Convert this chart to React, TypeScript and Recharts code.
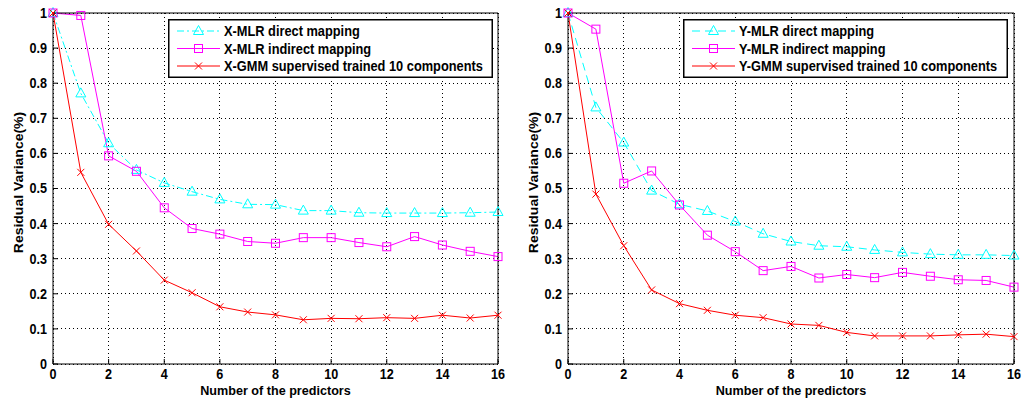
import React from 'react';
import { LineChart, Line, XAxis, YAxis, CartesianGrid, Legend, Label } from 'recharts';

const predictors = [0, 1, 2, 3, 4, 5, 6, 7, 8, 9, 10, 11, 12, 13, 14, 15, 16];
const xTicks = [0, 2, 4, 6, 8, 10, 12, 14, 16];
const yTicks = [0, 0.1, 0.2, 0.3, 0.4, 0.5, 0.6, 0.7, 0.8, 0.9, 1];

const xDirect = [1.0, 0.771, 0.629, 0.553, 0.516, 0.491, 0.469, 0.455, 0.454, 0.437, 0.437, 0.431, 0.43, 0.43, 0.43, 0.431, 0.433];
const xIndirect = [1.0, 0.993, 0.593, 0.549, 0.445, 0.386, 0.37, 0.349, 0.344, 0.36, 0.36, 0.346, 0.334, 0.363, 0.339, 0.321, 0.306];
const xGmm = [1.0, 0.546, 0.398, 0.322, 0.239, 0.203, 0.163, 0.148, 0.14, 0.126, 0.13, 0.129, 0.132, 0.13, 0.139, 0.131, 0.139];

const yDirect = [1.0, 0.731, 0.631, 0.494, 0.455, 0.436, 0.406, 0.371, 0.349, 0.337, 0.334, 0.325, 0.318, 0.313, 0.311, 0.311, 0.309];
const yIndirect = [1.0, 0.954, 0.515, 0.55, 0.453, 0.367, 0.32, 0.266, 0.278, 0.245, 0.255, 0.246, 0.261, 0.25, 0.24, 0.238, 0.219];
const yGmm = [1.0, 0.484, 0.337, 0.211, 0.172, 0.153, 0.139, 0.132, 0.114, 0.11, 0.09, 0.08, 0.08, 0.08, 0.083, 0.085, 0.078];

const xLabels = ['X-MLR direct mapping', 'X-MLR indirect mapping', 'X-GMM supervised trained 10 components'];
const yLabels = ['Y-MLR direct mapping', 'Y-MLR indirect mapping', 'Y-GMM supervised trained 10 components'];

const FONT = '"Liberation Sans", Arial, Helvetica, sans-serif';
const CYAN = '#00FFFF';
const MAGENTA = '#FF00FF';
const RED = '#FF0000';
const FS = 14;
const SX = 0.9;

const Tri = (p: any) => {
  const { cx, cy, stroke } = p;
  if (cx == null || cy == null) return null;
  return <path d={`M${cx},${cy - 5.5}L${cx - 5},${cy + 3.5}L${cx + 5},${cy + 3.5}Z`} fill="none" stroke={stroke || CYAN} strokeWidth={1} />;
};
const Sq = (p: any) => {
  const { cx, cy, stroke } = p;
  if (cx == null || cy == null) return null;
  return <rect x={cx - 4} y={cy - 4} width={8} height={8} fill="none" stroke={stroke || MAGENTA} strokeWidth={1} />;
};
const Cross = (p: any) => {
  const { cx, cy, stroke } = p;
  if (cx == null || cy == null) return null;
  const s = 3.5;
  return <path d={`M${cx - s},${cy - s}L${cx + s},${cy + s}M${cx - s},${cy + s}L${cx + s},${cy - s}`} fill="none" stroke={stroke || RED} strokeWidth={1} />;
};

const BottomTick = (p: any) => {
  const { x, y, payload } = p;
  return (
    <g transform={`translate(${x},${y}) scale(${SX},1)`}>
      <text x={0} y={0} dy="0.71em" textAnchor="middle" fontFamily={FONT} fontWeight="bold" fontSize={FS} fill="#000">
        {String(payload.value)}
      </text>
    </g>
  );
};
const LeftTick = (p: any) => {
  const { x, y, payload } = p;
  return (
    <g transform={`translate(${x},${y}) scale(${SX},1)`}>
      <text x={0} y={0} dy="0.355em" textAnchor="end" fontFamily={FONT} fontWeight="bold" fontSize={FS} fill="#000">
        {String(payload.value)}
      </text>
    </g>
  );
};

const makeLegend = (labels: string[], directDash: string) => () => {
  const rows = [12, 29.5, 47];
  const colors = [CYAN, MAGENTA, RED];
  const dashes = [directDash, undefined, undefined];
  return (
    <svg width={325} height={59} style={{ display: 'block' }}>
      <rect x={0.75} y={0.75} width={323.5} height={57.5} fill="#fff" stroke="#000" strokeWidth={1.5} />
      {rows.map((ry, i) => (
        <g key={i}>
          <line x1={9} x2={52} y1={ry} y2={ry} stroke={colors[i]} strokeDasharray={dashes[i]} strokeWidth={1} />
          {i === 0 && <Tri cx={30.5} cy={ry} stroke={colors[i]} />}
          {i === 1 && <Sq cx={30.5} cy={ry} stroke={colors[i]} />}
          {i === 2 && <Cross cx={30.5} cy={ry} stroke={colors[i]} />}
          <g transform={`translate(56,${ry + 5}) scale(0.915,1)`}>
            <text x={0} y={0} fontFamily={FONT} fontWeight="bold" fontSize={FS} fill="#000">{labels[i]}</text>
          </g>
        </g>
      ))}
    </svg>
  );
};

type PanelProps = {
  direct: number[];
  indirect: number[];
  gmm: number[];
  labels: string[];
  directDash: string;
  left: number;
  width: number;
  marginRight: number;
};

const Panel = ({ direct, indirect, gmm, labels, directDash, left, width, marginRight }: PanelProps) => {
  const data = predictors.map((n, i) => ({ n, direct: direct[i], indirect: indirect[i], gmm: gmm[i] }));
  return (
    <div style={{ position: 'absolute', left, top: 0 }}>
      <LineChart width={width} height={408} data={data} margin={{ top: 12, right: marginRight, bottom: 4, left: 8 }}>
        <CartesianGrid xAxisId="bottom" yAxisId="left" stroke="#000" strokeDasharray="1 3" strokeWidth={1} shapeRendering="crispEdges" />
        <XAxis
          xAxisId="bottom"
          dataKey="n"
          type="number"
          domain={[0, 16]}
          ticks={xTicks}
          interval={0}
          height={40}
          tickSize={-5}
          tickMargin={10}
          stroke="#000"
          tick={<BottomTick />}
          axisLine={{ stroke: '#000', strokeWidth: 1 }}
        >
          <Label
            content={(props: any) => {
              const vb = props.viewBox || {};
              return (
                <g transform={`translate(${vb.x + vb.width / 2},${vb.y + 30.5}) scale(0.97,1)`}>
                  <text x={0} y={0} textAnchor="middle" fontFamily={FONT} fontWeight="bold" fontSize={13} fill="#000">
                    Number of the predictors
                  </text>
                </g>
              );
            }}
          />
        </XAxis>
        <XAxis xAxisId="top" orientation="top" dataKey="n" type="number" domain={[0, 16]} ticks={xTicks} interval={0} height={1} tickSize={-5} tick={false} stroke="#000" />
        <YAxis
          yAxisId="left"
          type="number"
          domain={[0, 1]}
          ticks={yTicks}
          interval={0}
          width={45}
          tickSize={-5}
          tickMargin={11}
          stroke="#000"
          tick={<LeftTick />}
        >
          <Label
            content={(props: any) => {
              const vb = props.viewBox || {};
              const x = vb.x + 14.5;
              const y = vb.y + vb.height / 2 - 6;
              return (
                <g transform={`translate(${x},${y}) scale(${SX},1) rotate(-90)`}>
                  <text x={0} y={0} textAnchor="middle" fontFamily={FONT} fontWeight="bold" fontSize={FS} fill="#000">
                    Residual Variance(%)
                  </text>
                </g>
              );
            }}
          />
        </YAxis>
        <YAxis yAxisId="right" orientation="right" type="number" domain={[0, 1]} ticks={yTicks} interval={0} width={1} tickSize={-5} tick={false} stroke="#000" />
        <Legend
          layout="vertical"
          align="center"
          verticalAlign="middle"
          content={makeLegend(labels, directDash)}
          wrapperStyle={{ left: 168, top: 19, width: 325, height: 59 }}
        />
        <Line xAxisId="bottom" yAxisId="left" type="linear" dataKey="direct" stroke={CYAN} strokeWidth={1} strokeDasharray={directDash} dot={<Tri stroke={CYAN} />} activeDot={false} isAnimationActive={false} />
        <Line xAxisId="bottom" yAxisId="left" type="linear" dataKey="indirect" stroke={MAGENTA} strokeWidth={1} dot={<Sq stroke={MAGENTA} />} activeDot={false} isAnimationActive={false} />
        <Line xAxisId="bottom" yAxisId="left" type="linear" dataKey="gmm" stroke={RED} strokeWidth={1} dot={<Cross stroke={RED} />} activeDot={false} isAnimationActive={false} />
      </LineChart>
    </div>
  );
};

export default function App() {
  return (
    <div style={{ position: 'absolute', left: 0, top: 0, width: 1023, height: 408, background: '#fff', overflow: 'hidden' }}>
      <Panel direct={xDirect} indirect={xIndirect} gmm={xGmm} labels={xLabels} directDash="7 3 2 3" left={0} width={512} marginRight={13} />
      <Panel direct={yDirect} indirect={yIndirect} gmm={yGmm} labels={yLabels} directDash="8 5" left={515} width={508} marginRight={8} />
    </div>
  );
}
